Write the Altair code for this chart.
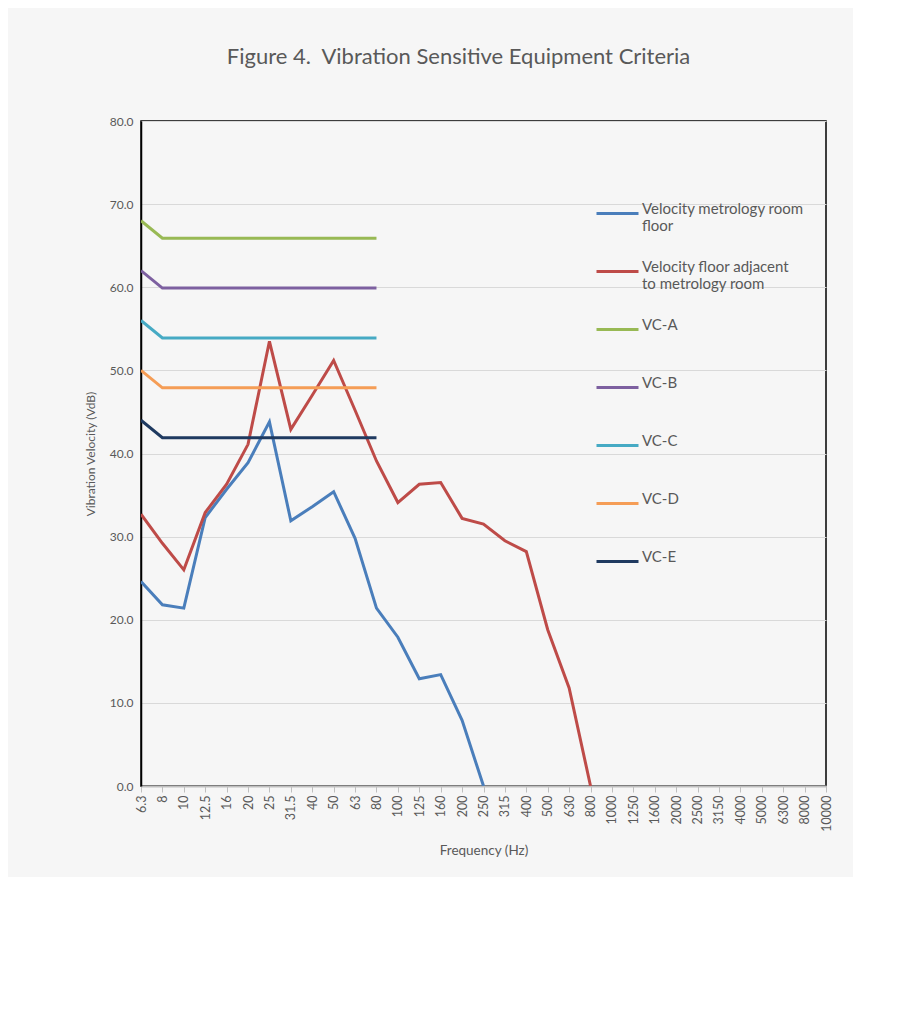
import altair as alt
import pandas as pd

categories = ["6.3", "8", "10", "12.5", "16", "20", "25", "31.5", "40", "50", "63", "80",
              "100", "125", "160", "200", "250", "315", "400", "500", "630", "800",
              "1000", "1250", "1600", "2000", "2500", "3150", "4000", "5000", "6300",
              "8000", "10000"]

metrology_room = [24.6, 21.8, 21.4, 32.3, 35.7, 38.9, 43.8, 31.9, 33.6, 35.4, 29.8, 21.4,
                  17.9, 12.9, 13.4, 7.9, 0.0]
adjacent_floor = [32.7, 29.2, 26.0, 32.9, 36.3, 41.1, 53.5, 42.9, 47.0, 51.2, 45.2, 39.1,
                  34.1, 36.3, 36.5, 32.2, 31.5, 29.5, 28.2, 18.8, 11.8, 0.0]
vc_a = [68.0] + [65.9] * 11
vc_b = [62.0] + [59.9] * 11
vc_c = [56.0] + [53.9] * 11
vc_d = [50.0] + [47.9] * 11
vc_e = [44.0] + [41.9] * 11

series_names = ["Velocity metrology room floor",
                "Velocity floor adjacent to metrology room",
                "VC-A", "VC-B", "VC-C", "VC-D", "VC-E"]
series_values = [metrology_room, adjacent_floor, vc_a, vc_b, vc_c, vc_d, vc_e]
series_colors = ["#4a7ebb", "#be4b48", "#98b954", "#7d60a0", "#46aac4", "#f59d56", "#1f3a60"]

rows = []
for name, vals in zip(series_names, series_values):
    for i, v in enumerate(vals):
        rows.append({"series": name, "freq": categories[i], "idx": i, "value": v})
df = pd.DataFrame(rows)

FONT = "Lato"
TXT = "#595959"

label_expr = ("datum.label == 'Velocity metrology room floor' ? ['Velocity metrology room', 'floor'] : "
              "datum.label == 'Velocity floor adjacent to metrology room' ? ['Velocity floor adjacent', 'to metrology room'] : "
              "datum.label")

chart = alt.Chart(df).mark_line(strokeWidth=3, clip=True).encode(
    x=alt.X("freq:O", sort=categories,
            scale=alt.Scale(domain=categories, padding=0),
            axis=alt.Axis(title="Frequency (Hz)", labelAngle=270, labelFontSize=12.5,
                          labelColor=TXT, labelFont=FONT, titleFont=FONT, titleColor=TXT,
                          titleFontSize=13.5, titleFontWeight="normal", titlePadding=12,
                          domainColor="#bfbfbf", domainWidth=2, tickColor="#bfbfbf",
                          tickSize=6, labelPadding=3, grid=False)),
    y=alt.Y("value:Q", scale=alt.Scale(domain=[0, 80]),
            axis=alt.Axis(title="Vibration Velocity (VdB)", format=".1f", values=list(range(0, 81, 10)),
                          labelFontSize=12, labelColor=TXT, labelFont=FONT, titleFont=FONT,
                          titleColor=TXT, titleFontSize=12, titleFontWeight="normal",
                          titlePadding=12, domainColor="#000000", domainWidth=1.5,
                          ticks=False, labelPadding=8, gridColor="#d9d9d9")),
    color=alt.Color("series:N", scale=alt.Scale(domain=series_names, range=series_colors),
                    legend=alt.Legend(title=None, orient="none", legendX=454, legendY=70,
                                      symbolType="stroke", symbolSize=1764, symbolStrokeWidth=3,
                                      labelFont=FONT, labelFontSize=15, labelColor=TXT,
                                      labelLimit=400, labelExpr=label_expr,
                                      labelBaseline="alphabetic", gridAlign="all",
                                      rowPadding=15, labelOffset=2)),
    order="idx:Q",
).properties(
    width=685, height=665,
    title=alt.TitleParams("Figure 4.\u00a0\u00a0Vibration Sensitive Equipment Criteria", font=FONT,
                          fontSize=22, fontWeight="normal", color=TXT, offset=46, dx=-25),
    padding={"left": 76, "top": 38, "right": 20, "bottom": 20},
    background="#f6f6f6",
).configure_view(stroke="#000000", strokeWidth=1.5)

chart.save("out.html", embed_options={"renderer": "svg", "actions": False})
